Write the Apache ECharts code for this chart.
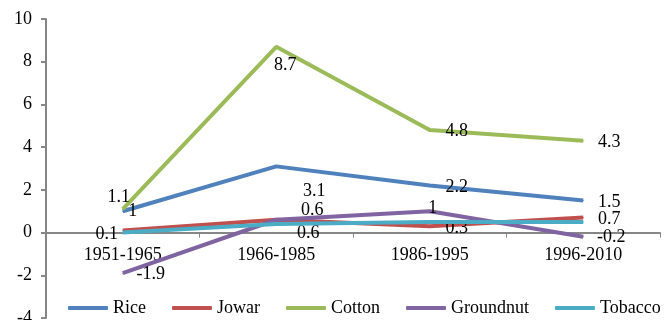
<!DOCTYPE html>
<html>
<head>
<meta charset="utf-8">
<script src="https://cdn.jsdelivr.net/npm/echarts@6/dist/echarts.min.js"></script>
<style>html,body{margin:0;padding:0;background:#fff;}#c{width:664px;height:320px;}</style>
</head>
<body>
<div id="c"></div>
<script>
var categories = ['1951-1965', '1966-1985', '1986-1995', '1996-2010'];
var seriesNames = ['Rice', 'Jowar', 'Cotton', 'Groundnut', 'Tobacco'];
var rice = [1, 3.1, 2.2, 1.5];
var jowar = [0.1, 0.6, 0.3, 0.7];
var cotton = [1.1, 8.7, 4.8, 4.3];
var groundnut = [-1.9, 0.6, 1, -0.2];
var tobacco = [0, 0.4, 0.5, 0.5];
var yTicks = [-4, -2, 0, 2, 4, 6, 8, 10];

var values = [rice, jowar, cotton, groundnut, tobacco];
var colors = ['#4F81BD', '#C0504D', '#9BBB59', '#8064A2', '#4BACC6'];
var showLabels = [true, true, true, true, false];
// label centre offsets (px) relative to each point — layout only
var labelOffsets = [
  [[10, 0], [38, 25], [27, 2], [26, 2]],
  [[-16, 4], [32, 14], [27, 2], [26, 2]],
  [[-4, -12], [9, 19], [27, 1], [26, 2]],
  [[28, 1], [36, -9], [3, -3], [28, 0]],
  [[0, 0], [0, 0], [0, 0], [0, 0]]
];
var font = 'Liberation Serif, Times New Roman, serif';

var series = seriesNames.map(function (name, si) {
  return {
    name: name,
    type: 'line',
    symbol: 'circle',
    symbolSize: 1,
    showSymbol: true,
    lineStyle: { width: 4, color: colors[si] },
    itemStyle: { color: colors[si] },
    emphasis: { disabled: true },
    z: 2 + si,
    data: values[si].map(function (v, i) {
      return {
        value: v,
        label: {
          show: showLabels[si],
          position: 'inside',
          offset: labelOffsets[si][i],
          formatter: String(v),
          color: '#000',
          fontFamily: font,
          fontSize: 18
        }
      };
    })
  };
});

var chart = echarts.init(document.getElementById('c'), null, { renderer: 'canvas' });
chart.setOption({
  animation: false,
  color: colors,
  grid: { left: 46, right: 4, top: 19, bottom: 2, containLabel: false, outerBoundsMode: 'none' },
  legend: {
    data: seriesNames,
    left: 68,
    top: 299,
    width: 640,
    padding: 0,
    itemWidth: 40,
    itemHeight: 4,
    itemGap: 26,
    icon: 'roundRect',
    textStyle: { color: '#000', fontFamily: font, fontSize: 18 },
    z: 20
  },
  xAxis: {
    type: 'category',
    data: categories,
    boundaryGap: true,
    axisLine: { onZero: true, lineStyle: { color: '#868686', width: 2 } },
    axisTick: { show: true, length: 5, lineStyle: { color: '#868686', width: 1 } },
    axisLabel: { color: '#000', fontFamily: font, fontSize: 18, margin: -72 },
    splitLine: { show: false }
  },
  yAxis: {
    type: 'value',
    min: yTicks[0],
    max: yTicks[yTicks.length - 1],
    interval: 2,
    axisLine: { show: true, lineStyle: { color: '#868686', width: 2 } },
    axisTick: { show: true, length: 5, lineStyle: { color: '#868686', width: 2 } },
    axisLabel: { color: '#000', fontFamily: font, fontSize: 18, margin: 14 },
    splitLine: { show: false }
  },
  series: series
});
</script>
</body>
</html>
